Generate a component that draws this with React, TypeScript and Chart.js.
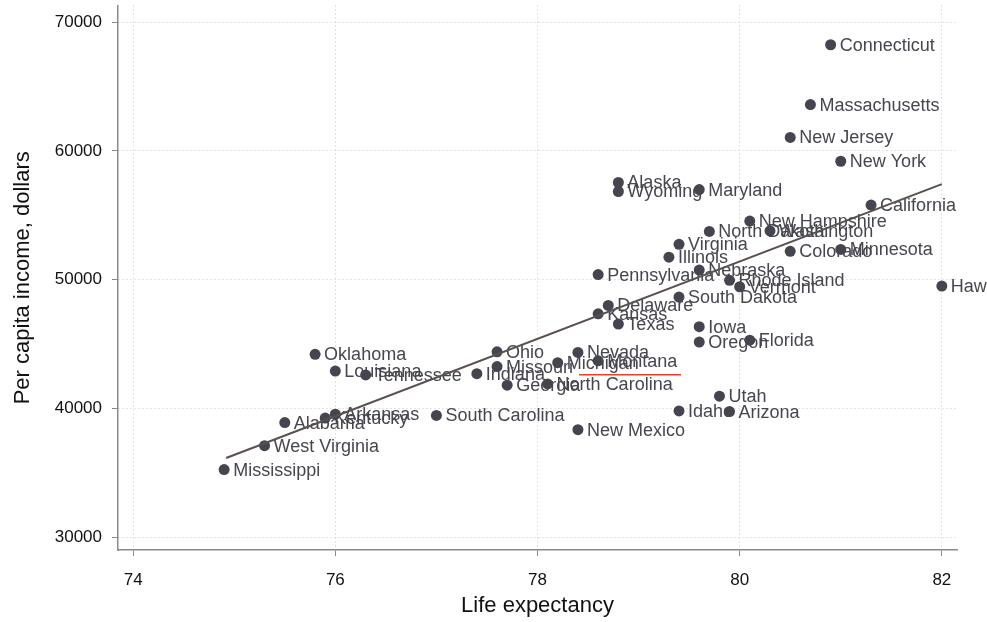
import React, { useEffect, useRef } from "react";
import { Chart, registerables } from "chart.js";
Chart.register(...registerables);

const states = [
  "Connecticut", "Massachusetts", "New Jersey", "New York", "Alaska", "Wyoming", "Maryland",
  "California", "New Hampshire", "North Dakota", "Washington", "Virginia", "Illinois", "Colorado",
  "Minnesota", "Pennsylvania", "Nebraska", "Rhode Island", "Vermont", "Hawaii", "South Dakota",
  "Delaware", "Kansas", "Texas", "Iowa", "Oregon", "Florida", "Nevada", "Michigan", "Montana",
  "Ohio", "Missouri", "Indiana", "Georgia", "North Carolina", "Oklahoma", "Louisiana", "Tennessee",
  "South Carolina", "Arkansas", "Kentucky", "Alabama", "West Virginia", "Mississippi", "New Mexico",
  "Idaho", "Utah", "Arizona",
];
const lifeExpectancy = [
  80.9, 80.7, 80.5, 81.0, 78.8, 78.8, 79.6,
  81.3, 80.1, 79.7, 80.3, 79.4, 79.3, 80.5,
  81.0, 78.6, 79.6, 79.9, 80.0, 82.0, 79.4,
  78.7, 78.6, 78.8, 79.6, 79.6, 80.1, 78.4, 78.2, 78.6,
  77.6, 77.6, 77.4, 77.7, 78.1, 75.8, 76.0, 76.3,
  77.0, 76.0, 75.9, 75.5, 75.3, 74.9, 78.4,
  79.4, 79.8, 79.9,
];
const income = [
  68250, 63600, 61050, 59200, 57550, 56850, 57000,
  55800, 54550, 53750, 53800, 52750, 51750, 52200,
  52350, 50400, 50750, 49950, 49450, 49500, 48650,
  48000, 47350, 46550, 46350, 45150, 45300, 44350, 43550, 43700,
  44400, 43250, 42700, 41800, 41900, 44200, 42900, 42600,
  39450, 39550, 39250, 38900, 37100, 35250, 38350,
  39800, 40950, 39750,
];
const fitX = [74.92, 82.0];
const fitY = [36150, 57420];
const markX = [78.41, 79.42];
const markY = [42620, 42620];
const xTicks = [74, 76, 78, 80, 82];
const yTicks = [30000, 40000, 50000, 60000, 70000];

const FONT = "'Liberation Sans', Arial, Helvetica, sans-serif";

export default function App() {
  const ref = useRef<HTMLCanvasElement | null>(null);
  useEffect(() => {
    document.body.style.margin = "0";
    const canvas = ref.current!;
    const labelPlugin = {
      id: "stateLabels",
      afterDatasetDraw(chart: any, args: any) {
        if (args.index !== 0) return;
        const ctx = chart.ctx;
        ctx.save();
        ctx.font = `18px ${FONT}`;
        ctx.fillStyle = "#46464f";
        ctx.textBaseline = "middle";
        ctx.textAlign = "left";
        args.meta.data.forEach((el: any, i: number) => {
          ctx.fillText(states[i], el.x + 9, el.y + 1);
        });
        ctx.restore();
      },
    };
    const chart = new Chart(canvas, {
      type: "scatter",
      data: {
        datasets: [
          {
            data: lifeExpectancy.map((x, i) => ({ x, y: income[i] })),
            backgroundColor: "#45454f",
            borderColor: "#45454f",
            pointRadius: 5.5,
            pointBorderWidth: 0,
            order: 2,
          },
          {
            type: "line",
            data: fitX.map((x, i) => ({ x, y: fitY[i] })),
            borderColor: "#5a5050",
            borderWidth: 2,
            pointRadius: 0,
            showLine: true,
            fill: false,
            order: 1,
          } as any,
          {
            type: "line",
            data: markX.map((x, i) => ({ x, y: markY[i] })),
            borderColor: "#e8402a",
            borderWidth: 1.5,
            pointRadius: 0,
            showLine: true,
            fill: false,
            order: 0,
          } as any,
        ],
      },
      plugins: [labelPlugin],
      options: {
        responsive: false,
        animation: false,
        devicePixelRatio: 1,
        layout: { padding: { top: 5, right: 30, left: 0, bottom: 0 } },
        plugins: { legend: { display: false }, tooltip: { enabled: false } },
        scales: {
          x: {
            type: "linear",
            min: 73.85,
            max: 82.15,
            afterBuildTicks: (s: any) => { s.ticks = xTicks.map((v) => ({ value: v })); },
            afterFit: (s: any) => { s.height = 72; },
            ticks: { color: "#111111", font: { family: FONT, size: 17 }, padding: 14, maxRotation: 0,
              callback: (v: any) => String(v) },
            grid: { color: "#c8c8c8", tickColor: "#8a8a8a", tickLength: 6, lineWidth: 1 },
            border: { color: "#8a8a8a", width: 1.5, dash: [1, 3] },
            title: { display: true, text: "Life expectancy", color: "#111111",
              font: { family: FONT, size: 22 }, padding: { top: 3, bottom: 3 } },
          },
          y: {
            type: "linear",
            min: 29000,
            max: 71300,
            afterBuildTicks: (s: any) => { s.ticks = yTicks.map((v) => ({ value: v })); },
            afterFit: (s: any) => { s.width = 118; s.paddingTop = 0; s.paddingBottom = 0; },
            ticks: { color: "#111111", font: { family: FONT, size: 17 }, padding: 10,
              callback: (v: any) => String(v) },
            grid: { color: "#c8c8c8", tickColor: "#8a8a8a", tickLength: 6, lineWidth: 1 },
            border: { color: "#8a8a8a", width: 1.5, dash: [1, 3] },
            title: { display: true, text: "Per capita income, dollars", color: "#111111",
              font: { family: FONT, size: 22 }, padding: { top: 10, bottom: 4 } },
          },
        },
      },
    } as any);
    return () => chart.destroy();
  }, []);
  return <canvas ref={ref} width={987} height={622} style={{ display: "block" }} />;
}
